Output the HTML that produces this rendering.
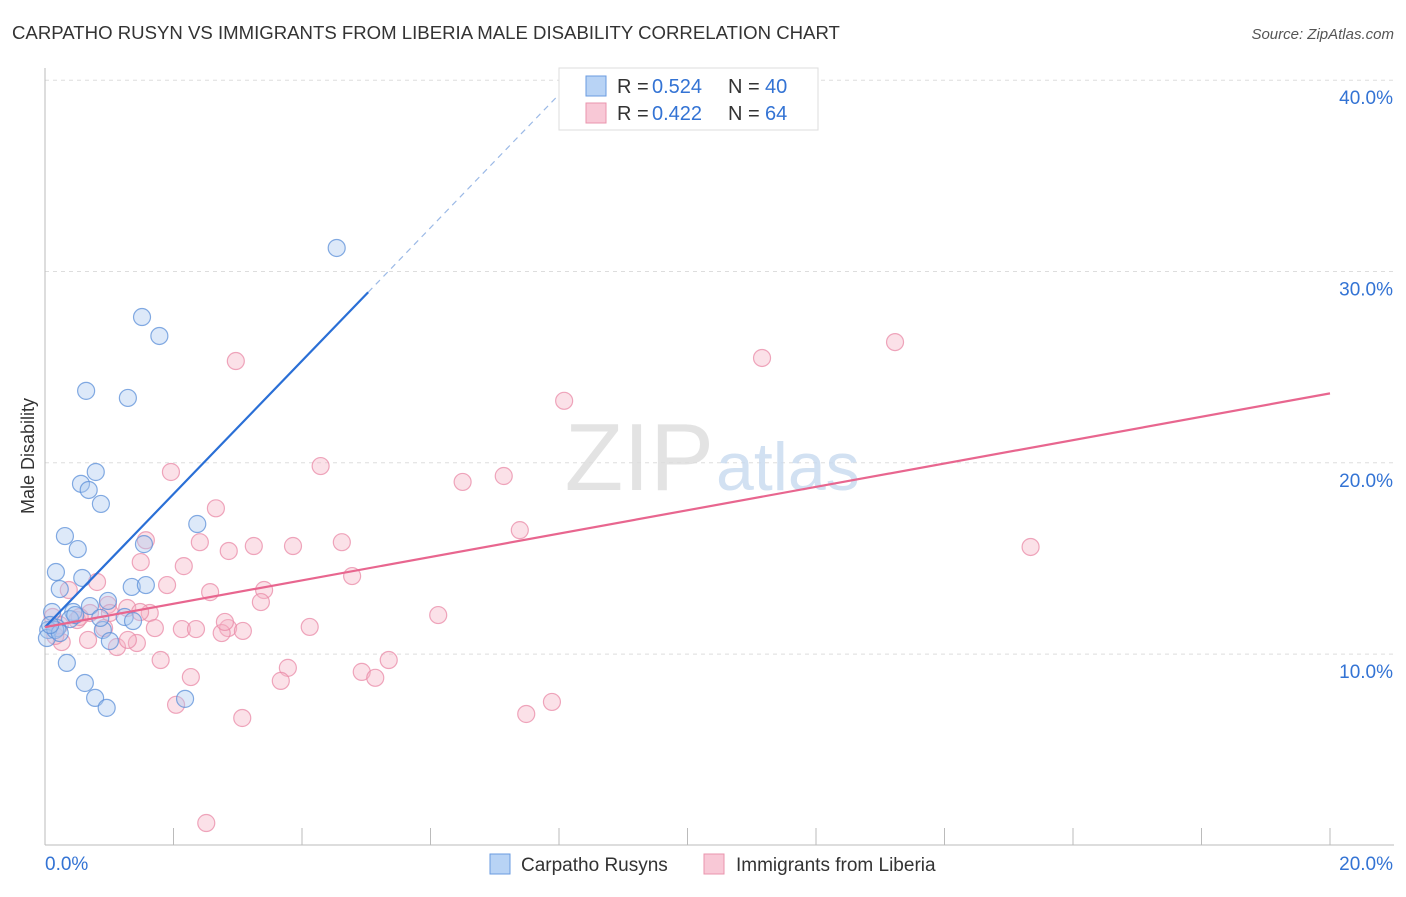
<!DOCTYPE html>
<html><head><meta charset="utf-8"><style>
body{margin:0;background:#fff;font-family:"Liberation Sans",sans-serif}
svg text{font-family:"Liberation Sans",sans-serif}
</style></head><body>
<svg id="chart" width="1406" height="892" xmlns="http://www.w3.org/2000/svg">
<text x="12" y="39" font-size="18.6" fill="#333">CARPATHO RUSYN VS IMMIGRANTS FROM LIBERIA MALE DISABILITY CORRELATION CHART</text>
<text x="1394" y="39" font-size="15" fill="#555" text-anchor="end" font-style="italic">Source: ZipAtlas.com</text>
<g id="grid"></g>
<text x="714" y="490" font-size="96" text-anchor="end" fill="#ddd" font-family="Liberation Serif" opacity="0.8">ZIP</text>
<text x="716" y="490" font-size="68" fill="#c8daf0" opacity="0.8">atlas</text>
<g id="marks"></g>
<text transform="translate(34,456) rotate(-90)" font-size="18" fill="#333" text-anchor="middle">Male Disability</text>
<g>
<rect x="559" y="68" width="259" height="62" fill="#fff" stroke="#ddd"/>
<rect x="586" y="76" width="20" height="20" fill="#b8d3f5" stroke="#6a9be0"/>
<rect x="586" y="103" width="20" height="20" fill="#f8c8d6" stroke="#ea94ad"/>
<text x="617" y="93" font-size="20" fill="#333">R =</text>
<text x="652" y="93" font-size="20" fill="#3373d4">0.524</text>
<text x="728" y="93" font-size="20" fill="#333">N =</text>
<text x="765" y="93" font-size="20" fill="#3373d4">40</text>
<text x="617" y="120" font-size="20" fill="#333">R =</text>
<text x="652" y="120" font-size="20" fill="#3373d4">0.422</text>
<text x="728" y="120" font-size="20" fill="#333">N =</text>
<text x="765" y="120" font-size="20" fill="#3373d4">64</text>
</g>
<g>
<rect x="490" y="854" width="20" height="20" fill="#b8d3f5" stroke="#6a9be0"/>
<text x="521" y="871" font-size="19" fill="#333">Carpatho Rusyns</text>
<rect x="704" y="854" width="20" height="20" fill="#f8c8d6" stroke="#ea94ad"/>
<text x="736" y="871" font-size="19" fill="#333">Immigrants from Liberia</text>
</g>
</svg>
<script>
const yTicks=[10,20,30,40];
const xTickLabels=["0.0%","20.0%"];
const blueX=[4.54,1.51,1.78,0.64,1.29,0.79,0.56,0.68,0.87,2.37,0.31,0.51,1.54,0.17,0.58,0.23,1.35,1.57,0.98,0.70,0.44,0.11,1.24,1.37,0.39,0.90,0.19,0.05,1.01,0.03,0.34,0.62,0.78,0.96,2.18,0.16,0.23,0.08,0.86,0.47];
const blueY=[31.23,27.62,26.63,23.76,23.39,19.52,18.90,18.58,17.85,16.80,16.17,15.49,15.75,14.29,13.98,13.40,13.51,13.61,12.78,12.51,12.20,12.20,11.94,11.73,11.83,11.26,11.36,11.26,10.68,10.84,9.54,8.49,7.71,7.19,7.66,11.26,11.10,11.52,11.89,12.04];
const pinkX=[2.97,11.16,13.23,8.08,1.96,4.29,7.14,6.50,2.66,7.39,1.57,2.41,2.86,3.25,3.86,4.62,15.34,1.49,2.16,4.78,1.90,0.81,2.57,3.41,0.37,3.36,0.98,1.28,1.63,6.12,0.50,0.70,2.13,2.35,2.85,3.08,2.75,4.12,1.71,0.92,0.67,1.12,1.43,1.29,0.26,1.80,5.35,3.78,4.93,5.14,2.27,3.67,7.89,2.04,7.49,3.07,2.51,1.01,0.12,0.23,0.16,0.54,1.48,2.80];
const pinkY=[25.32,25.48,26.31,23.24,19.52,19.83,19.31,19.00,17.62,16.48,15.95,15.85,15.39,15.65,15.65,15.85,15.60,14.81,14.60,14.08,13.61,13.77,13.24,13.35,13.35,12.72,12.57,12.41,12.15,12.04,11.78,12.15,11.31,11.31,11.36,11.21,11.10,11.42,11.36,11.36,10.74,10.37,10.58,10.74,10.63,9.69,9.69,9.28,9.07,8.76,8.80,8.60,7.50,7.35,6.87,6.66,1.17,12.15,11.94,11.52,10.95,11.94,12.20,11.68];
const blueTrend=[11.41,3.48];
const pinkTrend=[11.41,0.611];
const X=v=>45+v*64.25, Y=v=>845.4-v*19.13;
const NS="http://www.w3.org/2000/svg";
const grid=document.getElementById('grid'), marks=document.getElementById('marks'), svg=document.getElementById('chart');
function mk(tag,attrs,parent){const e=document.createElementNS(NS,tag);for(const k in attrs)e.setAttribute(k,attrs[k]);parent.appendChild(e);return e;}
yTicks.forEach(t=>{
 const l=mk('line',{x1:45,x2:1394,y1:Y(t),y2:Y(t),stroke:'#ddd','stroke-dasharray':'4,4'},grid);
 
 
 const tx=mk('text',{x:1393,y:Y(t)+24,'font-size':19,fill:'#3373d4','text-anchor':'end'},svg);
 tx.textContent=t.toFixed(1)+'%';
 
 
});
const ax=mk('line',{x1:45,x2:45,y1:68,y2:845,stroke:'#bbb'},grid);


const bx=mk('line',{x1:45,x2:1394,y1:845,y2:845,stroke:'#bbb'},grid);


for(let i=0;i<=10;i++){const t=mk('line',{x1:X(i*2),x2:X(i*2),y1:828,y2:845,stroke:'#bbb'},grid);
 
 }
[[0,'start'],[20,'end']].forEach((p,i)=>{const t=mk('text',{x:i?1393:45,y:870,'font-size':19,fill:'#3373d4','text-anchor':p[1]},svg);t.textContent=xTickLabels[i];
 
 });
function dots(xs,ys,fill,stroke,name){xs.forEach((x,i)=>{const c=mk('circle',{cx:X(x),cy:Y(ys[i]),r:8.5,fill:fill,'fill-opacity':0.4,stroke:stroke,'stroke-opacity':0.75,'stroke-width':1.2},marks);
 
 });}
dots(pinkX,pinkY,'#f4b3c6','#e98aa7','point-liberia');
dots(blueX,blueY,'#a9c8f0','#5b8fd8','point-rusyn');
const bl=mk('line',{x1:X(0),y1:Y(blueTrend[0]),x2:X(5.03),y2:Y(blueTrend[0]+blueTrend[1]*5.03),stroke:'#2a6fd6','stroke-width':2.2},marks);


const bd=mk('line',{x1:X(5.03),y1:Y(blueTrend[0]+blueTrend[1]*5.03),x2:X(8.09),y2:Y(blueTrend[0]+blueTrend[1]*8.09),stroke:'#9bb9e6','stroke-width':1.2,'stroke-dasharray':'6,5'},marks);


const pl=mk('line',{x1:X(0),y1:Y(pinkTrend[0]),x2:X(20),y2:Y(pinkTrend[0]+pinkTrend[1]*20),stroke:'#e8668f','stroke-width':2.2},marks);


</script>
</body></html>
